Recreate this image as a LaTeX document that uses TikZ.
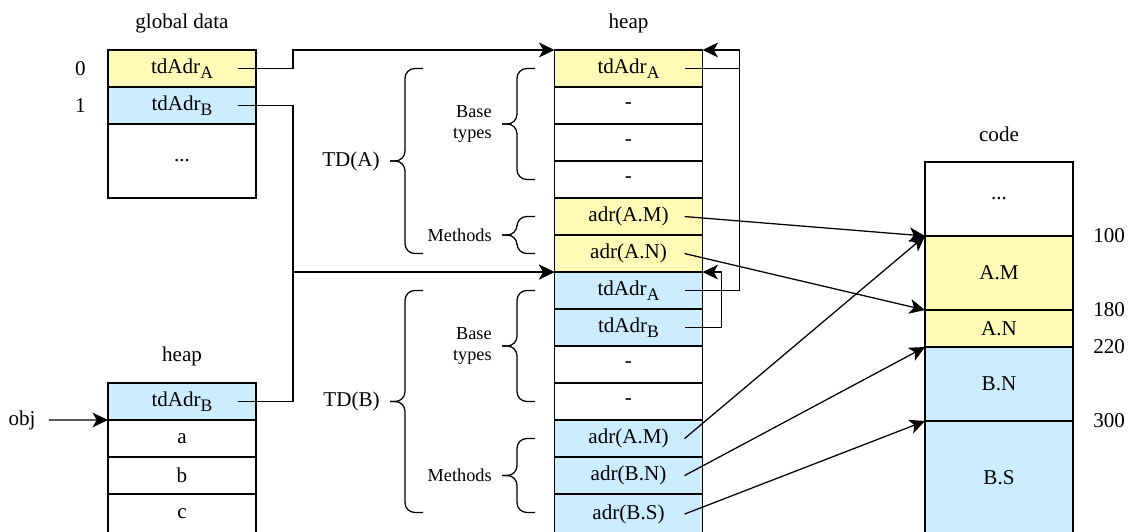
\documentclass[tikz,border=0pt]{standalone}
\usepackage{fontspec}
\setmainfont{Liberation Serif}
\usepackage{xcolor}
\definecolor{tdyellow}{RGB}{255,250,182}
\definecolor{tdblue}{RGB}{204,236,255}
\usetikzlibrary{calc,positioning,arrows.meta}
\newcommand\tdsub[1]{\raisebox{-3.5pt}{\fontsize{12.5}{12.5}\selectfont #1}}
% curly bracket: right end x, top y, bottom y, label name, label style, label
\newcommand\bracecurl[6]{%
    \draw[curl] (#1,#2) -- (#1-18,#2) -- (#1-18,{(#2+#3)/2}) -- (#1-33,{(#2+#3)/2});
    \draw[curl] (#1,#3) -- (#1-18,#3) -- (#1-18,{(#2+#3)/2}) -- (#1-33,{(#2+#3)/2});
    \node[anchor=east, inner sep=0pt, #5] (#4) at (#1-43,{(#2+#3)/2}) {#6};}

\begin{document}
\begin{tikzpicture}[x=0.025cm, y=-0.025cm, font=\fontsize{15}{18}\selectfont,
    cell/.style={draw, line width=1.3pt, minimum width=3.7cm, minimum height=0.925cm,
                 inner sep=0pt, outer sep=0pt},
    yel/.style={cell, fill=tdyellow},
    blu/.style={cell, fill=tdblue},
    wire/.style={line width=0.9pt},
    link/.style={wire, -{Stealth[length=11pt, width=10.5pt, inset=3pt]}},
    curl/.style={line width=0.9pt, rounded corners=7pt},
    small/.style={font=\fontsize{13}{15.6}\selectfont, align=right}]
    \useasboundingbox (0,0) rectangle (1133,532);

    % global data
    \node (glabel) at (182,23) {global data};
    \node[yel] (g0) at (182,68.5) {tdAdr\tdsub{A}};
    \node[blu, below=0pt of g0] (g1) {tdAdr\tdsub{B}};
    \node[cell, below=0pt of g1, minimum height=1.85cm] (g2) {...};
    \node[anchor=east, inner sep=0pt] (i0) at ($(g0.west)+(-22,0)$) {0};
    \node[anchor=east, inner sep=0pt] (i1) at ($(g1.west)+(-22,0)$) {1};

    % object on the heap
    \node (blabel) at (182,356) {heap};
    \node[blu] (b0) at (182,401.5) {tdAdr\tdsub{B}};
    \node[cell, below=0pt of b0] (b1) {a};
    \node[cell, below=0pt of b1] (b2) {b};
    \node[cell, below=0pt of b2, minimum height=1cm] (b3) {c};
    \node (obj) at (22,420) {obj};

    % type descriptors on the heap
    \node (mlabel) at (628.5,23) {heap};
    \node[yel] (m0) at (628.5,68.5) {tdAdr\tdsub{A}};
    \node[cell, below=0pt of m0] (m1) {-};
    \node[cell, below=0pt of m1] (m2) {-};
    \node[cell, below=0pt of m2] (m3) {-};
    \node[yel, below=0pt of m3] (m4) {adr(A.M)};
    \node[yel, below=0pt of m4] (m5) {adr(A.N)};
    \node[blu, below=0pt of m5] (m6) {tdAdr\tdsub{A}};
    \node[blu, below=0pt of m6] (m7) {tdAdr\tdsub{B}};
    \node[cell, below=0pt of m7] (m8) {-};
    \node[cell, below=0pt of m8] (m9) {-};
    \node[blu, below=0pt of m9] (m10) {adr(A.M)};
    \node[blu, below=0pt of m10] (m11) {adr(B.N)};
    \node[blu, below=0pt of m11, minimum height=1cm] (m12) {adr(B.S)};

    \bracecurl{423}{68.5}{253.5}{tda}{}{TD(A)}
    \bracecurl{535}{68.5}{179.5}{basea}{small}{Base\\types}
    \bracecurl{535}{216.5}{253.5}{metha}{small}{Methods}
    \bracecurl{423}{290.5}{512.5}{tdb}{}{TD(B)}
    \bracecurl{535}{290.5}{401.5}{baseb}{small}{Base\\types}
    \bracecurl{535}{438.5}{512.5}{methb}{small}{Methods}

    % code
    \node (clabel) at (999,134) {code};
    \node[cell, minimum height=1.85cm] (c0) at (999,199) {...};
    \node[yel, below=0pt of c0, minimum height=1.85cm] (c1) {A.M};
    \node[yel, below=0pt of c1] (c2) {A.N};
    \node[blu, below=0pt of c2, minimum height=1.85cm] (c3) {B.N};
    \node[blu, below=0pt of c3, minimum height=2.825cm] (c4) {B.S};
    \node[anchor=west, inner sep=0pt] (a100) at ($(c0.south east)+(20,0)$) {100};
    \node[anchor=west, inner sep=0pt] (a180) at ($(c1.south east)+(20,0)$) {180};
    \node[anchor=west, inner sep=0pt] (a220) at ($(c2.south east)+(20,0)$) {220};
    \node[anchor=west, inner sep=0pt] (a300) at ($(c3.south east)+(20,0)$) {300};

    % pointers
    \draw[link] ([xshift=6pt]obj.east) -- (b0.south west);
    \draw[link] ($(g0.east)+(-18,0)$) -- ++(55,0) |- (m0.north west);
    \draw[link] ($(g1.east)+(-18,0)$) -- ++(55,0) |- (m6.north west);
    \draw[link] ($(b0.east)+(-18,0)$) -- ++(55,0) |- (m6.north west);
    \draw[wire] ($(m0.east)+(-18,0)$) -- ++(55,0);
    \draw[link] ($(m6.east)+(-18,0)$) -- ++(55,0) |- (m0.north east);
    \draw[link] ($(m7.east)+(-18,0)$) -- ++(37,0) |- (m6.north east);
    \draw[link] ($(m4.east)+(-18,0)$) -- (c1.north west);
    \draw[link] ($(m5.east)+(-18,0)$) -- (c2.north west);
    \draw[link] ($(m10.east)+(-18,0)$) -- (c1.north west);
    \draw[link] ($(m11.east)+(-18,0)$) -- (c3.north west);
    \draw[link] ($(m12.east)+(-18,0)$) -- (c4.north west);
\end{tikzpicture}
\end{document}
